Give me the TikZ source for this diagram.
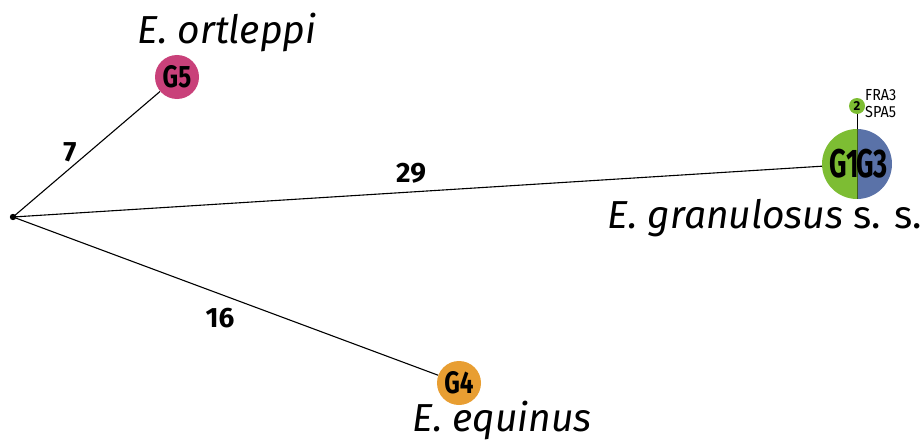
\documentclass[tikz,border=0pt]{standalone}
\usepackage{fontspec}
\setmainfont{Fira Sans}
\begin{document}
\begin{tikzpicture}[x=1pt,y=-1pt,
  branch/.style={line width=1.1pt,black},
  gtext/.style={font=\fontsize{31}{31}\selectfont\bfseries},
  bigg/.style={font=\fontsize{40}{40}\selectfont\bfseries},
  species/.style={font=\fontsize{39}{39}\selectfont\itshape},
  blabel/.style={font=\fontsize{28}{28}\selectfont\bfseries}]
\useasboundingbox (0,0) rectangle (921,444);
\definecolor{gfive}{HTML}{C9417A}
\definecolor{gone}{HTML}{7DBD33}
\definecolor{gthree}{HTML}{5A72A8}
\definecolor{gfour}{HTML}{E89E32}
\coordinate (root) at (13,217);
\node[circle,minimum size=44pt,inner sep=0] (g5) at (177,77) {};
\node[circle,minimum size=44pt,inner sep=0] (g4) at (459,383) {};
\node[circle,minimum size=70pt,inner sep=0] (g13) at (857,164) {};
\node[circle,minimum size=16pt,inner sep=0] (s2) at (857,106) {};
\draw[branch] (root) -- (g5);
\draw[branch] (root) -- (g13);
\draw[branch] (root) -- (g4);
\draw[line width=1pt] (s2.south) -- (g13.north);
\fill (root) circle (3.2);
\fill[gfive] (g5) circle (22);
\node[gtext] at (g5) {\scalebox{0.78}[1]{G5}};
\fill[gfour] (g4) circle (22);
\node[gtext] at (g4) {\scalebox{0.78}[1]{G4}};
\begin{scope}
\clip (g13) circle (35);
\fill[gone] (822,129) rectangle (857,199);
\fill[gthree] (857,129) rectangle (892,199);
\end{scope}
\draw[line width=0.8pt,gone!50!black] (857,129) -- (857,199);
\node[bigg,anchor=east,inner sep=0] at (859,164) {\scalebox{0.68}[1]{G1}};
\node[bigg,anchor=west,inner sep=0] at (856,164) {\scalebox{0.68}[1]{G3}};
\fill[gone] (s2) circle (8);
\node[font=\fontsize{13}{13}\selectfont\bfseries] at (s2) {2};
\node[font=\fontsize{16}{17}\selectfont,align=left,anchor=west,inner sep=0] (lab) at (865,104) {\scalebox{0.9}[1]{FRA3}\\\scalebox{0.9}[1]{SPA5}};
\node[blabel] at (70,152) {7};
\node[blabel] at (411,173) {29};
\node[blabel] at (220,318) {16};
\node[species] at (227,33) {E. ortleppi};
\node[species] at (765,218) {E. granulosus {\upshape s. s.}};
\node[species] at (502,420) {E. equinus};
\end{tikzpicture}
\end{document}
